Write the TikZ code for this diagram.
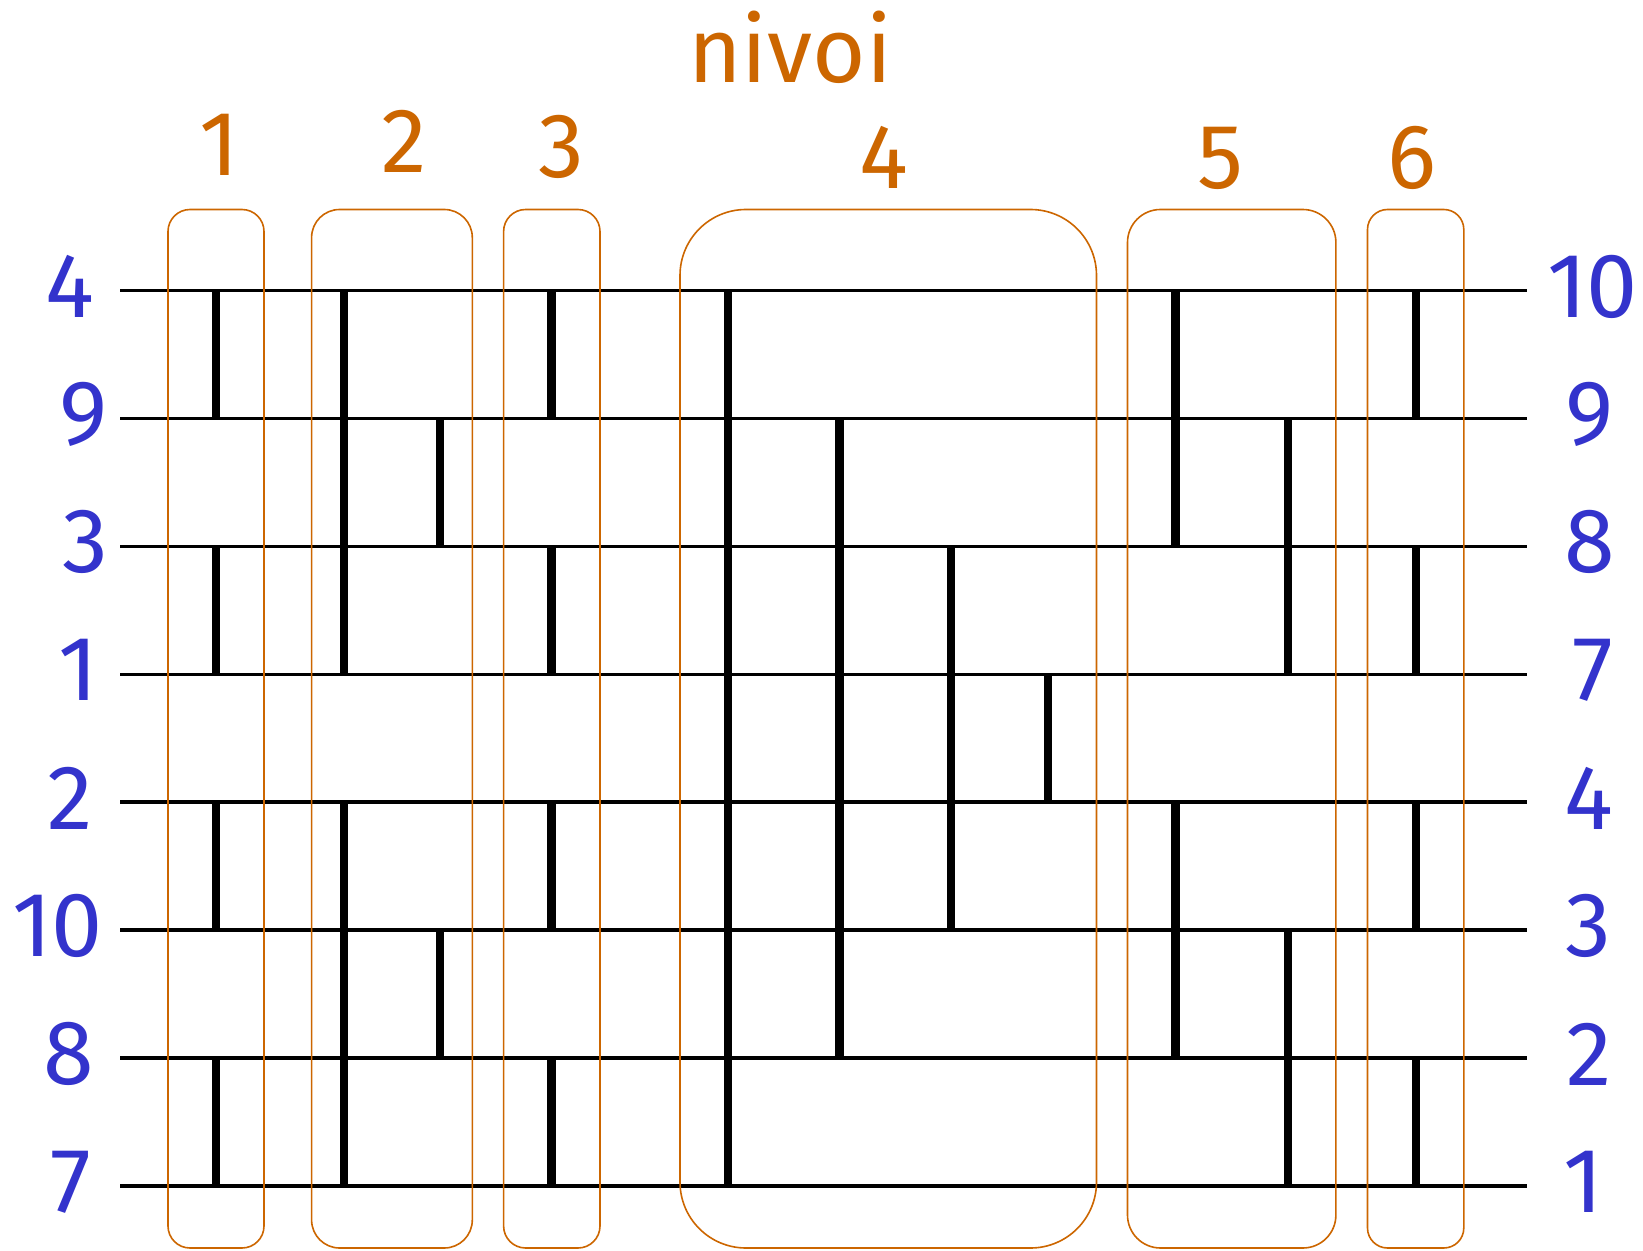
\documentclass[tikz,border=0pt]{standalone}
\usepackage{fontspec}
\setmainfont{Fira Sans}
\definecolor{org}{RGB}{204,102,0}
\definecolor{blu}{RGB}{51,51,204}
\begin{document}
\begin{tikzpicture}[x=0.5bp,y=-0.5bp,
  hline/.style={line width=1.7bp},
  vbar/.style={line width=4.2bp},
  grp/.style={draw=org,line width=0.8bp},
  lvl/.style={text=org,font=\fontsize{46}{50}\selectfont,inner sep=0pt},
  wire/.style={text=blu,font=\fontsize{46}{50}\selectfont,inner sep=0pt}]
\useasboundingbox (0,0) rectangle (1643,1251);
% wires
\foreach \k in {0,...,7}{
  \pgfmathsetmacro\yy{290.5+127.9*\k}
  \coordinate (L\k) at (120,\yy);
  \coordinate (R\k) at (1527,\yy);
  \draw[hline] (L\k) -- (R\k);
}
% comparator columns
\foreach \i/\xx in {1/216.2,2/343.7,3/439.7,4/551.5,5/728,6/839.5,7/951,8/1048,9/1175.6,10/1287.7,11/1415.7}{
  \coordinate (B\i) at (\xx,0);
}
\foreach \i/\a/\b in {1/0/1,1/2/3,1/4/5,1/6/7,
  2/0/3,2/4/7, 3/1/2,3/5/6,
  4/0/1,4/2/3,4/4/5,4/6/7,
  5/0/7, 6/1/6, 7/2/5, 8/3/4,
  9/0/2,9/4/6, 10/1/3,10/5/7,
  11/0/1,11/2/3,11/4/5,11/6/7}{
  \draw[vbar] (B\i |- L\a) -- (B\i |- L\b);
}
% level boxes
\draw[grp,rounded corners=11bp] (168,209.5) rectangle (264,1248);
\draw[grp,rounded corners=14bp] (311.6,209.5) rectangle (472.3,1248);
\draw[grp,rounded corners=11bp] (503.6,209.5) rectangle (600,1248);
\draw[grp,rounded corners=33bp] (680,209.5) rectangle (1096.5,1248);
\draw[grp,rounded corners=16.5bp] (1127.5,209.5) rectangle (1335.9,1248);
\draw[grp,rounded corners=10bp] (1367.5,209.5) rectangle (1463.8,1248);
% level labels
\node[lvl] (title) at (790,47) {nivoi};
\node[lvl] (n1) at (219,145) {1};
\node[lvl] (n2) at (404,141) {2};
\node[lvl] (n3) at (561.6,147) {3};
\node[lvl] (n4) at (884,157) {4};
\node[lvl] (n5) at (1220,158) {5};
\node[lvl] (n6) at (1412,158) {6};
% wire labels left
\foreach \k/\t/\xx in {0/4/69.7,1/9/83.8,2/3/85,3/1/78.6,4/2/69.7,5/10/57.6,6/8/69,7/7/70.7}{
  \node[wire] (lw\k) at ([yshift=2bp]L\k -| \xx,0) {\t};
}
% wire labels right
\foreach \k/\t/\xx in {0/10/1592.7,1/9/1589.6,2/8/1589.6,3/7/1592.7,4/4/1588.5,5/3/1588.5,6/2/1589.6,7/1/1583}{
  \node[wire] (rw\k) at ([yshift=2bp]R\k -| \xx,0) {\t};
}
\end{tikzpicture}
\end{document}
